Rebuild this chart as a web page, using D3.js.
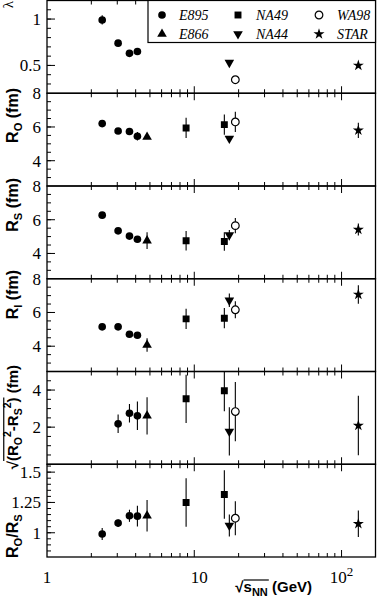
<!DOCTYPE html>
<html><head><meta charset="utf-8">
<script src="https://cdn.jsdelivr.net/npm/d3@7"></script>
<style>body{margin:0;background:#fff}svg{display:block}</style>
</head><body>
<script>
// ---------- DATA ----------
const panelNames = ["lambda","Ro","Rs","Rl","sqrtRo2Rs2","RoRs"];
const expNames = ["E895","E866","NA49","NA44","WA98","STAR"];

const E895_x      = [2.37, 3.04, 3.63, 4.11];
const E895_lambda = [0.99, 0.74, 0.63, 0.65];
const E895_lambdaErr = [0.05, 0.02, 0.02, 0.03];
const E895_Ro     = [6.2, 5.76, 5.73, 5.45];
const E895_RoErr  = [0.2, 0.1, 0.1, 0.25];
const E895_Rs     = [6.27, 5.34, 5.03, 4.84];
const E895_RsErr  = [0.1, 0.1, 0.1, 0.1];
const E895_Rl     = [5.15, 5.15, 4.71, 4.65];
const E895_RlErr  = [0.1, 0.1, 0.1, 0.1];
const E895_sq     = [null, 2.18, 2.75, 2.61];
const E895_sqErr  = [null, 0.5, 0.5, 0.77];
const E895_ratio  = [0.99, 1.08, 1.14, 1.137];
const E895_ratioErr = [0.05, 0.03, 0.05, 0.085];

const E866_x      = [4.78];
const E866_lambda = [null];
const E866_lambdaErr = [null];
const E866_Ro     = [5.41];
const E866_RoErr  = [0.1];
const E866_Rs     = [4.76];
const E866_RsErr  = [0.5];
const E866_Rl     = [4.07];
const E866_RlErr  = [0.4];
const E866_sq     = [2.61];
const E866_sqErr  = [1.0];
const E866_ratio  = [1.14];
const E866_ratioErr = [0.13];

const NA49_x      = [8.8, 16.0];
const NA49_lambda = [null, null];
const NA49_lambdaErr = [null, null];
const NA49_Ro     = [5.94, 6.14];
const NA49_RoErr  = [0.6, 0.6];
const NA49_Rs     = [4.75, 4.71];
const NA49_RsErr  = [0.58, 0.55];
const NA49_Rl     = [5.62, 5.66];
const NA49_RlErr  = [0.6, 0.6];
const NA49_sq     = [3.53, 3.96];
const NA49_sqErr  = [1.3, 1.1];
const NA49_ratio  = [1.25, 1.316];
const NA49_ratioErr = [0.2, 0.2];

const NA44_x      = [17.3];
const NA44_lambda = [0.53];
const NA44_lambdaErr = [0.02];
const NA44_Ro     = [5.32];
const NA44_RoErr  = [0.15];
const NA44_Rs     = [5.09];
const NA44_RsErr  = [0.3];
const NA44_Rl     = [6.72];
const NA44_RlErr  = [0.4];
const NA44_sq     = [1.77];
const NA44_sqErr  = [1.3];
const NA44_ratio  = [1.06];
const NA44_ratioErr = [0.09];

const WA98_x      = [19.0];
const WA98_lambda = [0.346];
const WA98_lambdaErr = [0.02];
const WA98_Ro     = [6.3];
const WA98_RoErr  = [0.6];
const WA98_Rs     = [5.65];
const WA98_RsErr  = [0.45];
const WA98_Rl     = [6.16];
const WA98_RlErr  = [0.5];
const WA98_sq     = [2.84];
const WA98_sqErr  = [1.6];
const WA98_ratio  = [1.12];
const WA98_ratioErr = [0.14];

const STAR_x      = [130];
const STAR_lambda = [0.5];
const STAR_lambdaErr = [0.02];
const STAR_Ro     = [5.8];
const STAR_RoErr  = [0.45];
const STAR_Rs     = [5.42];
const STAR_RsErr  = [0.35];
const STAR_Rl     = [7.07];
const STAR_RlErr  = [0.55];
const STAR_sq     = [2.09];
const STAR_sqErr  = [1.6];
const STAR_ratio  = [1.074];
const STAR_ratioErr = [0.11];

// tick labels
const yTickLabels = [[0.5,1],[4,6,8],[4,6,8],[4,6,8],[2,4],[1,1.25,1.5]];
const xTickLabels = [1,10,100];

// ---------- BUILD ----------
const series = [
  {name:"E895", x:E895_x, vals:[E895_lambda,E895_Ro,E895_Rs,E895_Rl,E895_sq,E895_ratio], errs:[E895_lambdaErr,E895_RoErr,E895_RsErr,E895_RlErr,E895_sqErr,E895_ratioErr]},
  {name:"E866", x:E866_x, vals:[E866_lambda,E866_Ro,E866_Rs,E866_Rl,E866_sq,E866_ratio], errs:[E866_lambdaErr,E866_RoErr,E866_RsErr,E866_RlErr,E866_sqErr,E866_ratioErr]},
  {name:"NA49", x:NA49_x, vals:[NA49_lambda,NA49_Ro,NA49_Rs,NA49_Rl,NA49_sq,NA49_ratio], errs:[NA49_lambdaErr,NA49_RoErr,NA49_RsErr,NA49_RlErr,NA49_sqErr,NA49_ratioErr]},
  {name:"NA44", x:NA44_x, vals:[NA44_lambda,NA44_Ro,NA44_Rs,NA44_Rl,NA44_sq,NA44_ratio], errs:[NA44_lambdaErr,NA44_RoErr,NA44_RsErr,NA44_RlErr,NA44_sqErr,NA44_ratioErr]},
  {name:"WA98", x:WA98_x, vals:[WA98_lambda,WA98_Ro,WA98_Rs,WA98_Rl,WA98_sq,WA98_ratio], errs:[WA98_lambdaErr,WA98_RoErr,WA98_RsErr,WA98_RlErr,WA98_sqErr,WA98_ratioErr]},
  {name:"STAR", x:STAR_x, vals:[STAR_lambda,STAR_Ro,STAR_Rs,STAR_Rl,STAR_sq,STAR_ratio], errs:[STAR_lambdaErr,STAR_RoErr,STAR_RsErr,STAR_RlErr,STAR_sqErr,STAR_ratioErr]}
];

const styles = {
  E895:{type:d3.symbolCircle, size:46, fill:"#000", rot:0},
  E866:{type:d3.symbolTriangle, size:40, fill:"#000", rot:0},
  NA49:{type:d3.symbolSquare, size:48, fill:"#000", rot:0},
  NA44:{type:d3.symbolTriangle, size:40, fill:"#000", rot:180},
  WA98:{type:d3.symbolCircle, size:46, fill:"#fff", rot:0},
  STAR:{type:d3.symbolStar, size:38, fill:"#000", rot:0}
};

const L=47, R=375.5, T0=0.5, PH=92.75;
const domains = [[0.2,1.2],[2.5,8],[2.5,8],[2.5,8],[0,5],[0.8,1.565]];
const minorSteps = [0.1,0.5,0.5,0.5,0.5,0.05];

const svg = d3.select("body").append("svg").attr("width",380).attr("height",600);
const x = d3.scaleLog().domain([1,170]).range([L,R]);
const serif = "'Liberation Serif','Times New Roman',serif";
const sans = "'Liberation Sans',Arial,sans-serif";

const xMajor = [1,10,100];
const xMinor = [2,3,4,5,6,7,8,9,20,30,40,50,60,70,80,90];

panelNames.forEach((pn,i)=>{
  const top = T0 + i*PH, bot = top + PH;
  const y = d3.scaleLinear().domain(domains[i]).range([bot, top]);
  const g = svg.append("g");
  const clipId = "clip"+i;
  svg.append("clipPath").attr("id",clipId).append("rect")
    .attr("x",L).attr("y",top).attr("width",R-L).attr("height",PH);

  // y ticks
  const [d0,d1] = domains[i];
  const st = minorSteps[i];
  const minor = d3.range(Math.ceil(d0/st-1e-6)*st, d1+1e-9, st).map(v=>+v.toFixed(4))
     .filter(v=>v>d0+1e-6 && v<d1-1e-6);
  const major = yTickLabels[i];
  g.selectAll(".ymin").data(minor).join("line")
    .attr("x1",L).attr("x2",L+4).attr("y1",d=>y(d)).attr("y2",d=>y(d))
    .attr("stroke","#000").attr("stroke-width",1);
  g.selectAll(".ymaj").data(major.filter(v=>v<d1-1e-6)).join("line")
    .attr("x1",L).attr("x2",L+8).attr("y1",d=>y(d)).attr("y2",d=>y(d))
    .attr("stroke","#000").attr("stroke-width",1);
  g.selectAll(".ylab").data(major).join("text")
    .attr("x",L-6).attr("y",d=>y(d)+6)
    .attr("text-anchor","end").attr("font-family",serif).attr("font-size",17)
    .text(d=>d);

  // x ticks top & bottom
  [[bot,-1],[top,1]].forEach(([yy,dir])=>{
    g.selectAll(null).data(xMajor.filter(v=>v>1)).join("line")
      .attr("x1",d=>x(d)).attr("x2",d=>x(d)).attr("y1",yy).attr("y2",yy+dir*7)
      .attr("stroke","#000").attr("stroke-width",1);
    g.selectAll(null).data(xMinor).join("line")
      .attr("x1",d=>x(d)).attr("x2",d=>x(d)).attr("y1",yy).attr("y2",yy+dir*4)
      .attr("stroke","#000").attr("stroke-width",1);
  });

  // data
  const pts = [];
  series.forEach(s=>{
    s.x.forEach((xv,j)=>{
      const v = s.vals[i][j];
      if(v==null) return;
      pts.push({name:s.name, x:xv, v:v, e:s.errs[i][j]||0});
    });
  });
  const dg = svg.append("g").attr("clip-path",`url(#${clipId})`);
  dg.selectAll(".err").data(pts.filter(p=>p.e>0)).join("line")
    .attr("x1",d=>x(d.x)).attr("x2",d=>x(d.x))
    .attr("y1",d=>y(d.v-d.e)).attr("y2",d=>y(d.v+d.e))
    .attr("stroke","#000").attr("stroke-width",1.1);
  dg.selectAll(".mk").data(pts).join("path")
    .attr("transform",d=>`translate(${x(d.x)},${y(d.v)}) rotate(${styles[d.name].rot})`)
    .attr("d",d=>d3.symbol().type(styles[d.name].type).size(styles[d.name].size)())
    .attr("fill",d=>styles[d.name].fill)
    .attr("stroke","#000").attr("stroke-width",d=>d.name==="WA98"?1.2:0);

  // frame
  g.append("rect").attr("x",L).attr("y",top).attr("width",R-L).attr("height",PH)
    .attr("fill","none").attr("stroke","#000").attr("stroke-width",1.3);
});

// x tick labels
const yBot = T0 + 6*PH;
svg.selectAll(".xl").data(xTickLabels).join("text")
  .attr("x",d=>x(d)+(d===10?5:0)).attr("y",yBot+26)
  .attr("text-anchor","middle").attr("font-family",serif).attr("font-size",17)
  .each(function(d){
    const t=d3.select(this);
    if(d===100){ t.append("tspan").text("10"); t.append("tspan").attr("dy",-7).attr("font-size",13).text("2"); }
    else t.text(d);
  });

// x title
const xt = svg.append("text").attr("x",312).attr("y",592).attr("text-anchor","end")
  .attr("font-family",sans).attr("font-weight","bold").attr("font-size",15);
xt.append("tspan").text("√s");
xt.append("tspan").attr("dy",4).attr("font-size",11).text("NN");
xt.append("tspan").attr("dy",-4).text(" (GeV)");
{
  const n = xt.node();
  const a = n.getStartPositionOfChar(1), b = n.getEndPositionOfChar(3);
  svg.append("line").attr("x1",a.x).attr("x2",b.x+1).attr("y1",592-12).attr("y2",592-12)
    .attr("stroke","#000").attr("stroke-width",1.2);
}

// y titles
function ytitle(xb, yAnchor, anchor, parts, size, overline){
  const g = svg.append("g").attr("transform",`translate(${xb},${yAnchor}) rotate(-90)`);
  const t = g.append("text").attr("text-anchor",anchor).attr("font-family",sans)
    .attr("font-weight","bold").attr("font-size",size);
  let cur=0;
  parts.forEach(([txt,kind])=>{
    const sp = t.append("tspan").text(txt);
    let target = kind==="sub"?4:kind==="sup"?-7:0;
    if(target!==cur){ sp.attr("dy",target-cur); cur=target; }
    if(kind) sp.attr("font-size",size*0.7);
  });
  if(overline){
    const n=t.node();
    const a=n.getStartPositionOfChar(overline[0]), b=n.getEndPositionOfChar(overline[1]);
    g.append("line").attr("x1",a.x).attr("x2",b.x).attr("y1",-size*0.95).attr("y2",-size*0.95)
      .attr("stroke","#000").attr("stroke-width",1.2);
  }
  return t;
}
// lambda
svg.append("g").attr("transform","translate(13,1) rotate(-90)")
  .append("text").attr("text-anchor","end").attr("font-family",serif).attr("font-size",15).text("λ");
ytitle(18, 88, "end", [["R",""],["O","sub"],[" (fm)",""]], 16);
ytitle(18, 178, "end", [["R",""],["S","sub"],[" (fm)",""]], 16);
ytitle(18, 270, "end", [["R",""],["l","sub"],[" (fm)",""]], 16);
ytitle(18, 365, "end", [["√(R",""],["O","sub"],["2","sup"],["-R",""],["S","sub"],["2","sup"],[") (fm)",""]], 15, [1,9]);
ytitle(18, 558, "start", [["R",""],["O","sub"],["/R",""],["S","sub"]], 16);

// legend
const lg = svg.append("g");
lg.append("rect").attr("x",148).attr("y",0.5).attr("width",R-148).attr("height",42)
  .attr("fill","#fff").attr("stroke","#000").attr("stroke-width",1.2);
const legPos = {E895:[162,15],E866:[162,34],NA49:[238,15],NA44:[238,34],WA98:[319,15],STAR:[319,34]};
expNames.forEach(n=>{
  const [mx,my]=legPos[n], s=styles[n];
  lg.append("path").attr("transform",`translate(${mx},${my}) rotate(${s.rot})`)
    .attr("d",d3.symbol().type(s.type).size(s.size)()).attr("fill",s.fill)
    .attr("stroke","#000").attr("stroke-width",n==="WA98"?1.2:0);
  lg.append("text").attr("x",mx+(n==="E895"||n==="E866"?17:18)).attr("y",my+4.5)
    .attr("font-family",serif).attr("font-style","italic").attr("font-size",14).text(n);
});
</script>
</body></html>
